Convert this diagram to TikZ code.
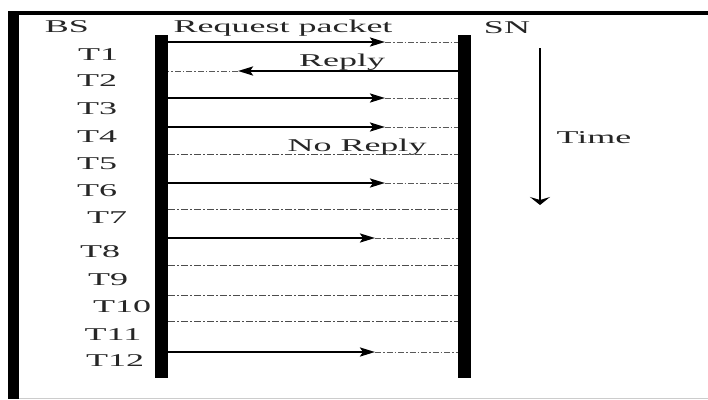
\documentclass[tikz,border=0pt]{standalone}
\usepackage{fontspec}
\setmainfont{Liberation Serif}
\usetikzlibrary{arrows.meta}
\begin{document}
\begin{tikzpicture}[x=1pt,y=-1pt,
  lbl/.style={inner sep=0pt, text=black!85, font=\fontsize{18}{20}\selectfont, xscale=2, transform shape},
  bar/.style={fill=black, draw=none, minimum width=13pt, inner sep=0pt},
  msg/.style={line width=2.4pt, -{Stealth[length=15pt,width=9pt,inset=3pt]}},
  tail/.style={line width=0.8pt, draw=black!65, dash pattern=on 6pt off 2pt on 1.5pt off 2pt},
  idle/.style={line width=0.9pt, draw=black!70, dash pattern=on 7pt off 2pt on 2pt off 2pt}]
\useasboundingbox (0,0) rectangle (708,399);
\fill[white] (0,0) rectangle (708,399);
% frame
\fill[black] (8,11) rectangle (19,399);
\fill[black] (8,11) rectangle (708,15);
\draw[black!20, line width=0.8pt] (19,398) -- (708,398);
% bars
\node[bar, minimum height=343pt] (bs) at (161.5,206.5) {};
\node[bar, minimum height=343pt] (sn) at (464.5,206.5) {};
% labels
\node[lbl] (lbs) at (67,27) {BS};
\node[lbl] (lsn) at (507,28) {SN};
\node[lbl] (lreq) at (283,28) {Request packet};
\node[lbl] (lrep) at (342,62) {Reply};
\node[lbl] (lnorep) at (357,147) {No Reply};
\node[lbl] (ltime) at (594,138) {Time};
\node[lbl] (t1) at (98,55) {T1};
\node[lbl] (t2) at (97,81) {T2};
\node[lbl] (t3) at (97,109) {T3};
\node[lbl] (t4) at (97,137) {T4};
\node[lbl] (t5) at (97,164) {T5};
\node[lbl] (t6) at (97,191) {T6};
\node[lbl] (t7) at (107,218) {T7};
\node[lbl] (t8) at (100,252) {T8};
\node[lbl] (t9) at (108,280) {T9};
\node[lbl] (t10) at (122,307) {T10};
\node[lbl] (t11) at (113,335) {T11};
\node[lbl] (t12) at (115,361) {T12};
% row coordinates
\foreach \n/\y in {1/42,2/71,3/98,4/127,5/154,6/183,7/209,8/238,9/265,10/295,11/321,12/352}{
  \coordinate (b\n) at (168,\y);
  \coordinate (s\n) at (458,\y);
}
\coordinate (a1) at (385,42);
\coordinate (a2) at (238,71);
\coordinate (a3) at (385,98);
\coordinate (a4) at (385,127);
\coordinate (a6) at (385,183);
\coordinate (a8) at (375,238);
\coordinate (a12) at (375,352);
% request arrows
\foreach \n in {1,3,4,6,8,12}{
  \draw[msg] (b\n) -- (a\n);
  \draw[tail] (a\n) -- (s\n);
}
% reply
\draw[msg] (s2) -- (a2);
\draw[tail] (a2) -- (b2);
% idle slots
\foreach \n in {5,7,9,10,11}{
  \draw[idle] (b\n) -- (s\n);
}
% time arrow
\coordinate (tt) at (540,48);
\coordinate (tb) at (540,205);
\draw[line width=1.4pt, -{Stealth[length=8pt,width=20pt,inset=3pt]}] (tt) -- (tb);
\end{tikzpicture}
\end{document}
